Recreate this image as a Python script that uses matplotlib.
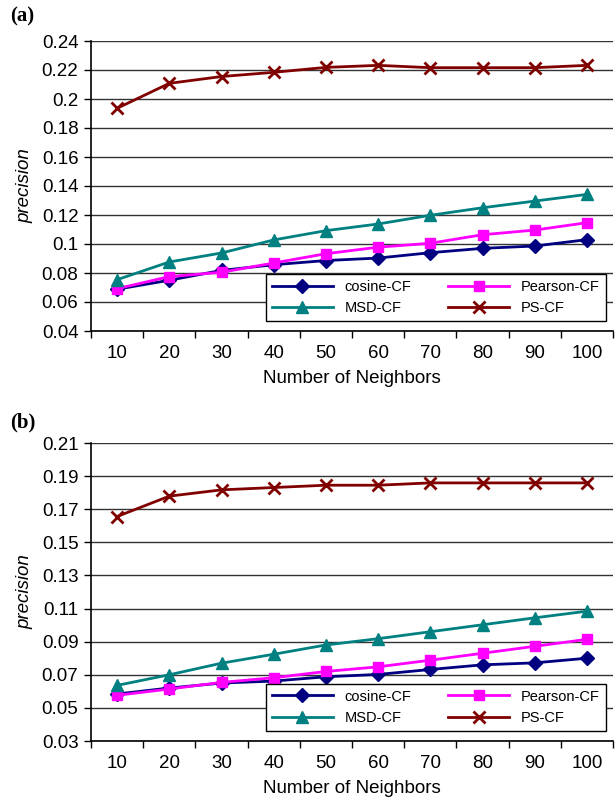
import matplotlib
matplotlib.use("Agg")
import matplotlib.pyplot as plt
from matplotlib.ticker import FixedLocator, NullFormatter

plt.rcParams['font.family'] = ['Liberation Sans', 'DejaVu Sans']

neighbors = [10, 20, 30, 40, 50, 60, 70, 80, 90, 100]

# Panel (a)
a_cosine = [0.0688, 0.0750, 0.0818, 0.0857, 0.0886, 0.0903, 0.0940, 0.0970, 0.0986, 0.1030]
a_pearson = [0.0692, 0.0775, 0.0805, 0.0869, 0.0933, 0.0978, 0.1005, 0.1064, 0.1096, 0.1147]
a_msd = [0.0754, 0.0876, 0.0938, 0.1028, 0.1092, 0.1138, 0.1198, 0.1250, 0.1296, 0.1342]
a_ps = [0.1936, 0.2108, 0.2155, 0.2184, 0.2218, 0.2232, 0.2216, 0.2216, 0.2216, 0.2232]
a_yticks = [0.04, 0.06, 0.08, 0.1, 0.12, 0.14, 0.16, 0.18, 0.2, 0.22, 0.24]
a_ylabels = ['0.04', '0.06', '0.08', '0.1', '0.12', '0.14', '0.16', '0.18', '0.2', '0.22', '0.24']

# Panel (b)
b_cosine = [0.0584, 0.0620, 0.0650, 0.0662, 0.0688, 0.0702, 0.0732, 0.0760, 0.0772, 0.0800]
b_pearson = [0.0576, 0.0614, 0.0654, 0.0682, 0.0720, 0.0748, 0.0788, 0.0830, 0.0872, 0.0914]
b_msd = [0.0636, 0.0700, 0.0770, 0.0824, 0.0880, 0.0918, 0.0960, 0.1002, 0.1044, 0.1084]
b_ps = [0.1656, 0.1779, 0.1817, 0.1831, 0.1845, 0.1845, 0.1859, 0.1859, 0.1859, 0.1859]
b_yticks = [0.03, 0.05, 0.07, 0.09, 0.11, 0.13, 0.15, 0.17, 0.19, 0.21]
b_ylabels = ['0.03', '0.05', '0.07', '0.09', '0.11', '0.13', '0.15', '0.17', '0.19', '0.21']

series_names = ['cosine-CF', 'Pearson-CF', 'MSD-CF', 'PS-CF']
colors = ['#000080', '#FF00FF', '#008080', '#800000']
markers = ['D', 's', '^', 'x']
msizes = [7, 7, 8.5, 9]

W, H = 615, 798
fig = plt.figure(figsize=(W / 100, H / 100), dpi=100)


def make_panel(rect, data, yticks, ylabels, tag, tag_y):
    l, t, r, b = rect
    ax = fig.add_axes([l / W, 1 - b / H, (r - l) / W, (b - t) / H])
    x = list(range(len(neighbors)))
    handles = []
    for vals, c, m, ms in zip(data, colors, markers, msizes):
        mew = 2 if m == 'x' else 1
        h, = ax.plot(x, vals, color=c, marker=m, markersize=ms, linewidth=2,
                     markeredgewidth=mew, markeredgecolor=c, markerfacecolor=c, zorder=3)
        handles.append(h)
    ax.set_xlim(-0.5, len(neighbors) - 0.5)
    ax.set_ylim(yticks[0], yticks[-1])
    ax.set_yticks(yticks)
    ax.set_yticklabels(ylabels, fontsize=13.5)
    ax.set_xticks(x)
    ax.set_xticklabels([str(n) for n in neighbors], fontsize=13.5)
    ax.tick_params(axis='x', length=0, pad=10)
    ax.xaxis.set_minor_locator(FixedLocator([i + 0.5 for i in range(-1, len(neighbors))]))
    ax.xaxis.set_minor_formatter(NullFormatter())
    ax.tick_params(axis='x', which='minor', length=5, width=1, direction='out', color='black')
    ax.tick_params(axis='y', length=5, width=1, direction='out', pad=4)
    ax.grid(axis='y', color='#333333', linewidth=1)
    ax.set_axisbelow(True)
    for s in ['top', 'right']:
        ax.spines[s].set_visible(False)
    ax.spines['left'].set_linewidth(1.2)
    ax.spines['bottom'].set_linewidth(1.2)
    ax.set_xlabel('Number of Neighbors', fontsize=13.5, labelpad=6)
    ax.set_ylabel('precision', fontsize=13.5, style='italic', labelpad=6)
    # row-wise legend order: cosine, Pearson / MSD, PS
    order = [0, 2, 1, 3]
    leg = ax.legend([handles[i] for i in order], [series_names[i] for i in order],
                    ncol=2, loc='lower right',
                    bbox_to_anchor=(1.0, 0.01), fontsize=10.5, frameon=True,
                    fancybox=False, edgecolor='black', framealpha=1,
                    handlelength=4.2, columnspacing=2.5, borderpad=0.4,
                    labelspacing=0.5, handletextpad=0.8)
    leg.get_frame().set_linewidth(1)
    fig.text(10 / W, 1 - tag_y / H, tag, fontsize=15, fontweight='bold',
             family=['Liberation Serif', 'DejaVu Serif'], va='center', ha='left')
    return ax


make_panel((91, 41, 613, 331), [a_cosine, a_pearson, a_msd, a_ps],
           a_yticks, a_ylabels, '(a)', 16)
make_panel((91, 443, 613, 741), [b_cosine, b_pearson, b_msd, b_ps],
           b_yticks, b_ylabels, '(b)', 422)

fig.savefig('out.png', dpi=100)
